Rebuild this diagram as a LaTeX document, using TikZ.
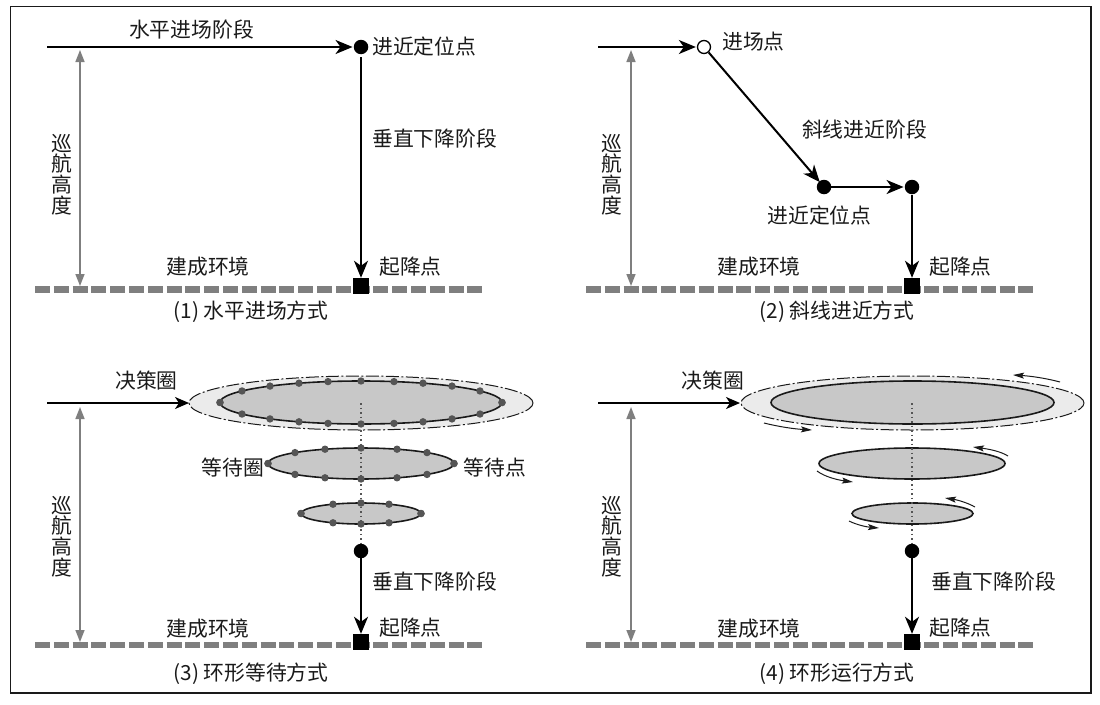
\documentclass[tikz,border=0pt]{standalone}
\usepackage{fontspec}
\setmainfont{Noto Sans CJK SC}
\usetikzlibrary{arrows.meta,shapes.geometric}
\definecolor{ink}{HTML}{1A1A1A}
\definecolor{midgray}{HTML}{7F7F7F}
\definecolor{outerfill}{HTML}{EBEBEB}
\definecolor{innerfill}{HTML}{C8C8C8}
\definecolor{dotgray}{HTML}{555555}
\tikzset{
 txt/.style={inner sep=0pt,text=ink,font=\fontsize{20.8}{20.6}\selectfont},
 captxt/.style={txt},
 vtxt/.style={txt,align=center},
 flow/.style={draw=black,line width=2pt,-{Stealth[length=17pt,width=14pt,inset=5pt]}},
 thinflow/.style={draw=black,line width=1.6pt,-{Stealth[length=14pt,width=12pt,inset=4pt]}},
 alt/.style={draw=midgray,line width=1.5pt,{Triangle[length=12pt,width=9pt]}-{Triangle[length=12pt,width=9pt]}},
 ground/.style={draw=midgray,line width=6.5pt,dash pattern=on 15pt off 3.8pt},
 fixdot/.style={circle,fill=black,draw=none,minimum size=14.5pt,inner sep=0pt},
 opendot/.style={circle,fill=white,draw=black,line width=1.3pt,minimum size=13pt,inner sep=0pt},
 pad/.style={rectangle,fill=black,draw=none,minimum size=16pt,inner sep=0pt},
 outerring/.style={fill=outerfill,draw=ink,line width=1pt,dash pattern=on 13pt off 2.5pt on 2pt off 2.5pt},
 innerring/.style={fill=innerfill,draw=ink,line width=1.6pt},
 axisline/.style={draw=dotgray,line width=1.3pt,dash pattern=on 1.5pt off 3pt},
 swirl/.style={draw=ink,line width=1pt,-{Stealth[length=11pt,width=6pt,inset=2pt]}},
}
\newcommand{\ringdots}[5]{% cx cy rx ry list of dx
 \foreach \dx in {#5}{
  \pgfmathsetmacro{\yy}{#4*sqrt(max(0,1-(\dx/#3)*(\dx/#3)))}
  \fill[dotgray] (#1+\dx,#2-\yy) circle (3.7pt);
  \fill[dotgray] (#1+\dx,#2+\yy) circle (3.7pt);
 }}
\begin{document}
\begin{tikzpicture}[x=1pt,y=-1pt]
\useasboundingbox (0,0) rectangle (1100,704);
\draw[draw=ink,line width=1.5pt] (10.5,6.5) rectangle (1091,693);

% ---------- panel 1
\coordinate (a1s) at (47,47);
\coordinate (h1t) at (80,50);
\coordinate (h1b) at (80,286);
\coordinate (g1l) at (35,289.5);
\coordinate (g1r) at (484,289.5);
\draw[ground] (g1l) -- (g1r);
\node[fixdot] (a1f) at (361,47) {};
\node[pad] (a1p) at (361,286) {};
\draw[flow,shorten >=1pt] (a1s) -- (a1f);
\draw[flow,shorten <=3pt,shorten >=0pt] (a1f) -- (a1p);
\draw[alt] (h1t) -- (h1b);
\node[txt] (a1t) at (191.5,29.5) {水平进场阶段};
\node[txt,anchor=west] (a1n) at (372,47) {进近定位点};
\node[txt,anchor=west] (a1d) at (372,138.5) {垂直下降阶段};
\node[vtxt] (a1h) at (62,174.5) {巡\\航\\高\\度};
\node[txt] (a1e) at (208,266.5) {建成环境};
\node[txt,anchor=west] (a1l) at (379,266.5) {起降点};
\node[captxt] (a1c) at (251,311.5) {(1) 水平进场方式};

% ---------- panel 2
\coordinate (b2s) at (598,47);
\coordinate (h2t) at (631,50);
\coordinate (h2b) at (631,286);
\coordinate (g2l) at (586,289.5);
\coordinate (g2r) at (1035,289.5);
\draw[ground] (g2l) -- (g2r);
\node[opendot] (b2o) at (704,47) {};
\node[fixdot] (b2f) at (824,187) {};
\node[fixdot] (b2g) at (912,187) {};
\node[pad] (b2p) at (912,286) {};
\draw[flow,shorten >=1pt] (b2s) -- (b2o);
\draw[flow,shorten >=-1pt] (b2o) -- (b2f);
\draw[flow,shorten >=1pt] (b2f) -- (b2g);
\draw[flow,shorten <=1pt] (b2g) -- (b2p);
\draw[alt] (h2t) -- (h2b);
\node[txt,anchor=west] (b2n) at (722,41.5) {进场点};
\node[txt] (b2a) at (864.5,129.5) {斜线进近阶段};
\node[txt] (b2m) at (819.5,215.5) {进近定位点};
\node[vtxt] (b2h) at (612,174.5) {巡\\航\\高\\度};
\node[txt] (b2e) at (759,266.5) {建成环境};
\node[txt,anchor=west] (b2l) at (929,266.5) {起降点};
\node[captxt] (b2c) at (837,311.5) {(2) 斜线进近方式};

% ---------- panel 3
\coordinate (c3s) at (47,403);
\coordinate (c3e) at (189,403);
\coordinate (c3a) at (361,403);
\coordinate (h3t) at (80,407);
\coordinate (h3b) at (80,642);
\coordinate (g3l) at (35,645);
\coordinate (g3r) at (484,645);
\draw[ground] (g3l) -- (g3r);
\filldraw[outerring] (361,403) ellipse (172pt and 27pt);
\filldraw[innerring] (361,402.5) ellipse (141pt and 21.5pt);
\filldraw[innerring] (361,463.5) ellipse (93pt and 15.5pt);
\filldraw[innerring] (361,513.5) ellipse (60pt and 10.5pt);
\ringdots{361}{402.5}{141}{21.5}{-141,-119,-91,-62,-33,0,33,62,91,119,141}
\ringdots{361}{463.5}{93}{15.5}{-93,-66,-36,0,36,66,93}
\ringdots{361}{513.5}{60}{10.5}{-60,-28,0,28,60}
\node[fixdot] (c3f) at (361,551) {};
\node[pad] (c3p) at (361,642) {};
\draw[axisline] (c3a) -- (c3f);
\draw[thinflow] (c3s) -- (c3e);
\draw[flow,shorten <=0pt] (c3f) -- (c3p);
\draw[alt] (h3t) -- (h3b);
\node[txt] (c3d) at (146.5,380.5) {决策圈};
\node[txt] (c3w) at (233,467.5) {等待圈};
\node[txt] (c3x) at (495,467.5) {等待点};
\node[txt,anchor=west] (c3v) at (372,581.5) {垂直下降阶段};
\node[vtxt] (c3h) at (62,536.5) {巡\\航\\高\\度};
\node[txt] (c3g) at (208,628.5) {建成环境};
\node[txt,anchor=west] (c3l) at (379,627.5) {起降点};
\node[captxt] (c3c) at (251,673.5) {(3) 环形等待方式};

% ---------- panel 4
\coordinate (d4s) at (598,403);
\coordinate (d4e) at (740,403);
\coordinate (d4a) at (912,403);
\coordinate (h4t) at (631,407);
\coordinate (h4b) at (631,642);
\coordinate (g4l) at (586,645);
\coordinate (g4r) at (1035,645);
\draw[ground] (g4l) -- (g4r);
\filldraw[outerring] (912.5,403) ellipse (171.5pt and 27pt);
\filldraw[innerring] (912.5,402.5) ellipse (141.5pt and 21.5pt);
\filldraw[innerring] (912,463.5) ellipse (93pt and 15.5pt);
\filldraw[innerring] (912.5,513.5) ellipse (60.5pt and 10.5pt);
\node[fixdot] (d4f) at (912,551) {};
\node[pad] (d4p) at (912,642) {};
\draw[axisline] (d4a) -- (d4f);
\draw[thinflow] (d4s) -- (d4e);
\draw[flow,shorten <=0pt] (d4f) -- (d4p);
\draw[alt] (h4t) -- (h4b);
\draw[swirl] (1060,382) .. controls (1045,378) and (1030,376) .. (1013,375);
\draw[swirl] (764,423) .. controls (780,427) and (795,429) .. (812,430);
\draw[swirl] (1008,456) .. controls (1000,451) and (988,449) .. (973,447);
\draw[swirl] (817,471) .. controls (825,477) and (838,480) .. (853,482);
\draw[swirl] (975,507) .. controls (968,503) and (958,500) .. (945,498);
\draw[swirl] (849,521) .. controls (857,525) and (867,527) .. (879,528);
\node[txt] (d4d) at (713,380.5) {决策圈};
\node[txt,anchor=west] (d4v) at (931,581.5) {垂直下降阶段};
\node[vtxt] (d4h) at (612,536.5) {巡\\航\\高\\度};
\node[txt] (d4g) at (759,628.5) {建成环境};
\node[txt,anchor=west] (d4l) at (929,627.5) {起降点};
\node[captxt] (d4c) at (837,673.5) {(4) 环形运行方式};
\end{tikzpicture}
\end{document}
